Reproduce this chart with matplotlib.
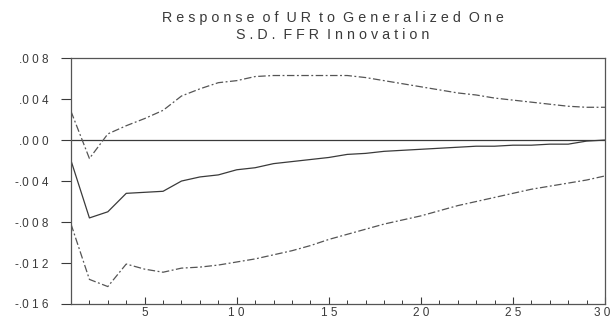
import matplotlib.pyplot as plt
from matplotlib.ticker import FixedLocator, MultipleLocator
from matplotlib.transforms import ScaledTranslation

plt.rcParams['font.family'] = ['Liberation Sans', 'DejaVu Sans']

# impulse response of UR to one S.D. FFR shock, with +/- 2 S.E. bands
periods = list(range(1, 31))
response = [-0.0020, -0.0076, -0.0070, -0.0052, -0.0051, -0.0050, -0.0040, -0.0036,
            -0.0034, -0.0029, -0.0027, -0.0023, -0.0021, -0.0019, -0.0017, -0.0014,
            -0.0013, -0.0011, -0.0010, -0.0009, -0.0008, -0.0007, -0.0006, -0.0006,
            -0.0005, -0.0005, -0.0004, -0.0004, -0.0001, 0.0000]
upper = [0.0028, -0.0018, 0.0006, 0.0014, 0.0021, 0.0029, 0.0043, 0.0050,
         0.0056, 0.0058, 0.0062, 0.0063, 0.0063, 0.0063, 0.0063, 0.0063,
         0.0061, 0.0058, 0.0055, 0.0052, 0.0049, 0.0046, 0.0044, 0.0041,
         0.0039, 0.0037, 0.0035, 0.0033, 0.0032, 0.0032]
lower = [-0.0082, -0.0136, -0.0143, -0.0121, -0.0126, -0.0129, -0.0125, -0.0124,
         -0.0122, -0.0119, -0.0116, -0.0112, -0.0108, -0.0103, -0.0097, -0.0092,
         -0.0087, -0.0082, -0.0078, -0.0074, -0.0069, -0.0064, -0.0060, -0.0056,
         -0.0052, -0.0048, -0.0045, -0.0042, -0.0039, -0.0035]

yticks = [0.008, 0.004, 0.0, -0.004, -0.008, -0.012, -0.016]
ytick_labels = ['.0 0 8', '.0 0 4', '.0 0 0', '-.0 0 4', '-.0 0 8', '-.0 1 2', '-.0 1 6']
xticks = [5, 10, 15, 20, 25, 30]
xtick_labels = ['5', '1 0', '1 5', '2 0', '2 5', '3 0']

title = 'R e s p o n s e  o f  U R  t o  G e n e r a l i z e d  O n e\nS . D .  F F R  I n n o v a t i o n'

ink = '#3a3a3a'

fig = plt.figure(figsize=(6.11, 3.21), dpi=100)
ax = fig.add_axes([0.1162, 0.053, 0.8740, 0.766])

band_style = (0, (6, 2, 1.5, 2))
ax.axhline(0, color=ink, lw=0.9)
ax.plot(periods, response, color=ink, lw=0.9)
ax.plot(periods, upper, color='#555555', lw=0.9, linestyle=band_style)
ax.plot(periods, lower, color='#555555', lw=0.9, linestyle=band_style)

ax.set_xlim(1, 30)
ax.set_ylim(-0.016, 0.008)

ax.yaxis.set_major_locator(FixedLocator(yticks))
ax.set_yticklabels(ytick_labels)
ax.xaxis.set_major_locator(FixedLocator(xticks))
ax.xaxis.set_minor_locator(MultipleLocator(1))
ax.set_xticklabels(xtick_labels)

ax.tick_params(axis='y', direction='out', length=7, width=0.8, color=ink,
               labelsize=8.5, labelcolor=ink, pad=9)
ax.tick_params(axis='x', which='major', direction='in', length=5, width=0.8,
               color=ink, labelsize=8.5, labelcolor=ink, pad=2)
ax.tick_params(axis='x', which='minor', direction='in', length=3, width=0.7, color=ink)

# nudge the last period label so it stays inside the canvas
last = ax.get_xticklabels()[-1]
last.set_transform(last.get_transform() + ScaledTranslation(-3 / 100, 0, fig.dpi_scale_trans))

for spine in ax.spines.values():
    spine.set_color('#555555')
    spine.set_linewidth(0.9)

fig.text(0.545, 0.965, title, ha='center', va='top', fontsize=10.3, color=ink,
         linespacing=1.25)

fig.savefig('out.png', dpi=100)
